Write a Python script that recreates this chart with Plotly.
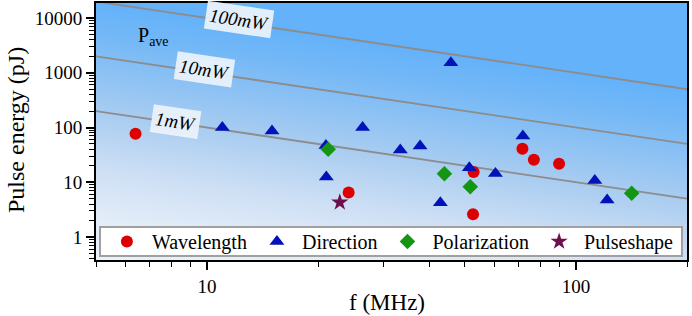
import numpy as np
import plotly.graph_objects as go

# ---------------- data ----------------
wavelength_f = [6.4, 24.2, 52.8, 52.6, 71.6, 76.9, 90.0]
wavelength_E = [77, 6.5, 15.4, 2.6, 41, 25.8, 21.8]

direction_f = [11.0, 15.0, 21.0, 21.05, 26.4, 33.4, 37.8, 42.9, 45.8, 51.4, 60.5, 71.8, 112.5, 121.5]
direction_E = [100, 86, 47, 12.5, 100, 39, 46, 4.2, 1530, 18.4, 14.5, 70, 10.8, 4.75]

polarization_f = [21.3, 44.0, 51.7, 141.6]
polarization_E = [40, 14.3, 8.3, 6.3]

pulseshape_f = [22.9]
pulseshape_E = [4.3]

power_levels_mW = [1, 10, 100]
power_labels = ["1mW", "10mW", "100mW"]

f_range = [5, 200]          # MHz
E_range = [0.38, 18800]     # pJ

FONT = "Liberation Serif"

fig = go.Figure()

# background: colour by average power P = E*f (log scale), on hidden linear axes
lx = np.log10(f_range)
ly = np.log10(E_range)
bx = [lx[0] - 0.5, lx[1] + 0.5]
by = [ly[0] - 0.5, ly[1] + 0.5]
bz = [[xx + yy for xx in bx] for yy in by]
fig.add_trace(go.Heatmap(
    x=bx, y=by, z=bz, zsmooth="best", zmin=0.3, zmax=5.0,
    colorscale=[[0.0, "#eaf1f9"], [0.149, "#e3edf8"], [0.34, "#cfe0f5"],
                [0.574, "#a8ccf0"], [0.723, "#8ec2f4"], [0.872, "#74b8f6"],
                [1.0, "#64b2fa"]],
    showscale=False, hoverinfo="skip", xaxis="x", yaxis="y"))

# constant-power lines
for p in power_levels_mW:
    fig.add_trace(go.Scatter(
        x=f_range, y=[p * 1e3 / f for f in f_range], mode="lines",
        line=dict(color="rgb(140,140,140)", width=1.8),
        showlegend=False, hoverinfo="skip", xaxis="x2", yaxis="y2"))

fig.add_trace(go.Scatter(x=wavelength_f, y=wavelength_E, mode="markers", name="Wavelength",
                         marker=dict(symbol="circle", size=12, color="rgb(220,0,0)"),
                         xaxis="x2", yaxis="y2"))
fig.add_trace(go.Scatter(x=direction_f, y=direction_E, mode="markers", name="Direction",
                         marker=dict(symbol="triangle-up", size=13, color="rgb(0,18,185)"),
                         xaxis="x2", yaxis="y2"))
fig.add_trace(go.Scatter(x=polarization_f, y=polarization_E, mode="markers", name="Polarization",
                         marker=dict(symbol="diamond", size=12, color="rgb(20,150,20)"),
                         xaxis="x2", yaxis="y2"))
fig.add_trace(go.Scatter(x=pulseshape_f, y=pulseshape_E, mode="markers", name="Pulseshape",
                         marker=dict(symbol="star", size=13, color="rgb(110,15,75)"),
                         xaxis="x2", yaxis="y2"))

axis_common = dict(showline=True, linecolor="black", linewidth=2, mirror=True,
                   ticks="outside", ticklen=8, tickwidth=1.5, tickcolor="black",
                   showgrid=False, zeroline=False, dtick=1, tickformat="d",
                   automargin=False,
                   tickfont=dict(family=FONT, size=19, color="black"),
                   minor=dict(ticks="outside", ticklen=5, tickwidth=1.2, tickcolor="black",
                              dtick="D1", showgrid=False))

fig.update_layout(
    width=692, height=316,
    margin=dict(l=96, r=5, t=3, b=56, autoexpand=False),
    paper_bgcolor="white", plot_bgcolor="white",
    font=dict(family=FONT, color="black"),
    xaxis=dict(range=list(lx), visible=False, showgrid=False, zeroline=False, automargin=False),
    yaxis=dict(range=list(ly), visible=False, showgrid=False, zeroline=False, automargin=False),
    xaxis2=dict(type="log", range=list(lx), overlaying="x", anchor="y2", side="bottom",
                **axis_common),
    yaxis2=dict(type="log", range=list(ly), overlaying="y", anchor="x2", side="left",
                **axis_common),
    showlegend=True,
    legend=dict(orientation="h", x=0.01, y=0.072, xanchor="left", yanchor="middle",
                bgcolor="rgba(0,0,0,0)", font=dict(family=FONT, size=20),
                itemsizing="trace", itemwidth=40),
)

# axis titles
fig.add_annotation(xref="paper", yref="paper", x=(387 - 96) / 591, y=(260 - 302) / 257,
                   xanchor="center", yanchor="middle",
                   text="f (MHz)", showarrow=False,
                   font=dict(family=FONT, size=23, color="black"))
fig.add_annotation(xref="paper", yref="paper", x=(16 - 96) / 591, y=(260 - 130) / 257,
                   xanchor="center", yanchor="middle",
                   text="Pulse energy (pJ)", showarrow=False, textangle=-90,
                   font=dict(family=FONT, size=24, color="black"))

# legend frame
fig.add_shape(type="rect", xref="paper", yref="paper", x0=0.0068, x1=0.9915, y0=0.0156, y1=0.128,
              line=dict(color="rgb(160,160,160)", width=2), fillcolor="white", layer="above")

# power labels (rotated to follow lines)
label_pos = [(0.134, 0.537), (0.184, 0.743), (0.242, 0.934)]
for (xp, yp), txt in zip(label_pos, power_labels):
    fig.add_annotation(xref="paper", yref="paper", x=xp, y=yp, text="<i>" + txt + "</i>",
                       xanchor="center", yanchor="middle",
                       showarrow=False, textangle=8.4, bgcolor="rgba(236,243,251,0.92)",
                       borderpad=3, font=dict(family=FONT, size=19, color="black"))

fig.add_annotation(xref="paper", yref="paper", x=(153 - 96) / 591, y=(260 - 36) / 257,
                   xanchor="center", yanchor="middle", text="P<sub>ave</sub>",
                   showarrow=False, font=dict(family=FONT, size=20, color="black"))

fig.write_html("out.html", config={"displayModeBar": False},
               post_script="document.body.style.margin='0px';")
